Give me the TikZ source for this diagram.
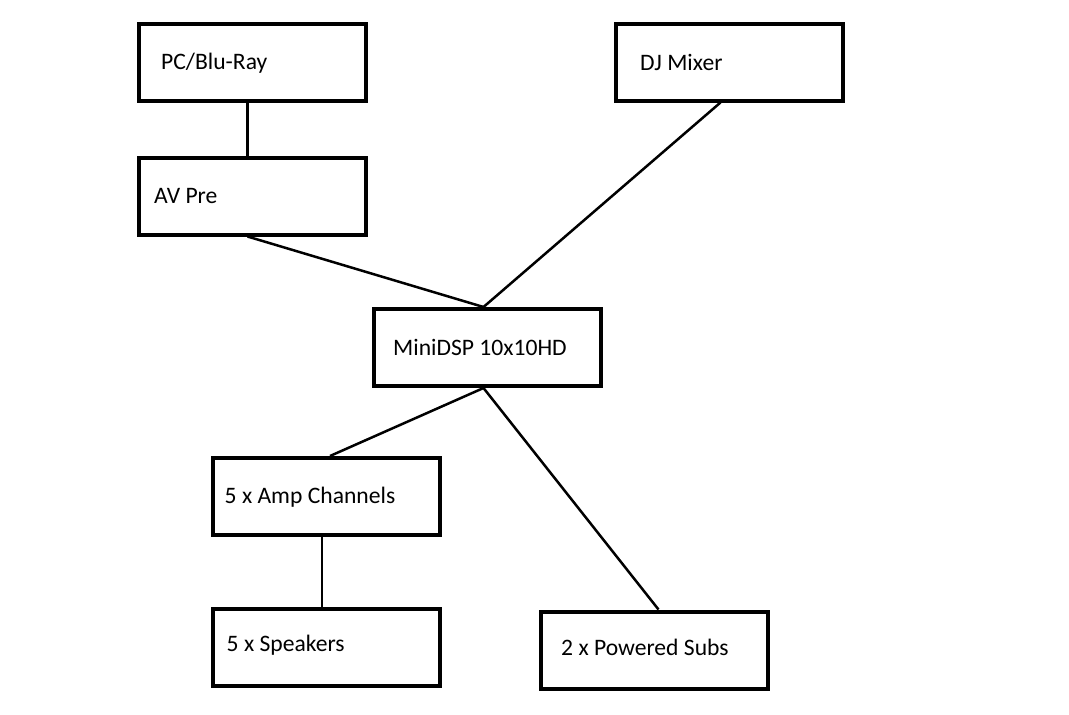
\documentclass[tikz,border=0pt]{standalone}
\usepackage{xcolor}
\usepackage{fontspec}
\setmainfont{Carlito}
\usepackage{tikz}
\usetikzlibrary{positioning}

\tikzset{
  unitbox/.style={draw=black, line width=4pt, minimum width=227pt,
    minimum height=77pt, inner sep=0pt},
  unitlabel/.style={anchor=west, inner sep=0pt,
    font=\fontsize{23.6}{27}\selectfont},
  cable/.style={draw=black, line width=2.5pt}
}

\begin{document}
\begin{tikzpicture}[x=1pt, y=-1pt]
    \useasboundingbox (0,0) rectangle (1069,715);
    % sources
    \node[unitbox] (pc) at (252.5,62.5) {};
    \node[unitbox] (dj) at (729.5,62) {};
    \node[unitbox] (av) at (252.5,196) {};
    % processor
    \node[unitbox] (dsp) at (487.5,347.5) {};
    % outputs
    \node[unitbox] (amp) at (326,496.5) {};
    \node[unitbox] (spk) at (326,647) {};
    \node[unitbox] (subs) at (654.5,650) {};

    \node[unitlabel, xshift=24pt, yshift=-1pt] (pctext) at (pc.west) {PC/Blu-Ray};
    \node[unitlabel, xshift=26pt] (djtext) at (dj.west) {DJ Mixer};
    \node[unitlabel, xshift=17pt] (avtext) at (av.west) {AV Pre};
    \node[unitlabel, xshift=21pt] (dsptext) at (dsp.west) {MiniDSP 10x10HD};
    \node[unitlabel, xshift=14pt, yshift=-1pt] (amptext) at (amp.west) {5 x Amp Channels};
    \node[unitlabel, xshift=16pt, yshift=2pt] (spktext) at (spk.west) {5 x Speakers};
    \node[unitlabel, xshift=22pt, yshift=3pt] (substext) at (subs.west) {2 x Powered Subs};

    \draw[cable] ([xshift=-5pt]pc.south) -- ([xshift=-5pt]av.north);
    \draw[cable] ([xshift=-5pt]av.south) -- ([xshift=-4pt]dsp.north);
    \draw[cable] ([xshift=-9pt]dj.south) -- ([xshift=-4pt]dsp.north);
    \draw[cable] ([xshift=-4pt]dsp.south) -- ([xshift=4pt]amp.north);
    \draw[cable] ([xshift=-4pt]dsp.south) -- ([xshift=4pt]subs.north);
    \draw[cable] ([xshift=-4pt]amp.south) -- ([xshift=-4pt]spk.north);
  \end{tikzpicture}
\end{document}
